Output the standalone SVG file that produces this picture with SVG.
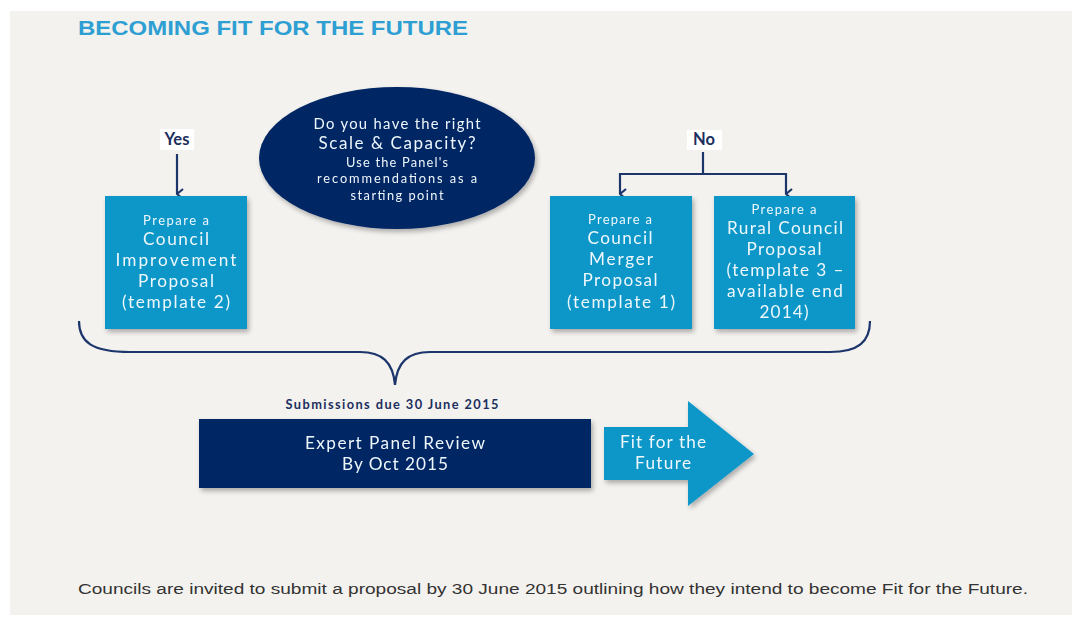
<svg xmlns="http://www.w3.org/2000/svg" width="1072" height="617" viewBox="0 0 1072 617">
  <style>
    .bx { fill: #0b97c9; }
    .navy { fill: #002664; }
    .t { font-family: Lato, "Open Sans", "Liberation Sans", sans-serif; fill: #eef7fb; text-anchor: middle; }
    .sm { font-size: 13px; }
    .md { font-size: 17.2px; }
    .el1 { font-size: 14.8px; }
    .el2 { font-size: 17px; }
    .el3 { font-size: 12.8px; }
    .lbl { font-family: Lato, "Open Sans", "Liberation Sans", sans-serif; font-weight: bold; font-size: 16.5px; fill: #1c2f5e; text-anchor: middle; }
    .conn { fill: none; stroke: #1c356b; stroke-width: 2.2; }
  </style>
  <defs>
    <marker id="chev" viewBox="0 0 12 10" refX="6" refY="9" markerWidth="12" markerHeight="10" markerUnits="userSpaceOnUse" orient="auto-start-reverse">
      <polyline points="1,3 6,9 11,3" fill="none" stroke="#1c356b" stroke-width="2.2"/>
    </marker>
    <filter id="sh" x="-10%" y="-10%" width="125%" height="130%">
      <feGaussianBlur in="SourceAlpha" stdDeviation="2.5"/>
      <feOffset dx="2" dy="3" result="b"/>
      <feComponentTransfer><feFuncA type="linear" slope="0.3"/></feComponentTransfer>
      <feMerge><feMergeNode/><feMergeNode in="SourceGraphic"/></feMerge>
    </filter>
  </defs>

  <!-- page background -->
  <rect x="0" y="0" width="1072" height="617" fill="#ffffff"/>
  <rect x="10" y="11" width="1062" height="604" fill="#f3f2ef"/>

  <text x="78" y="35" font-family="Liberation Sans, Arial, sans-serif" font-weight="bold" font-size="21" fill="#2e9fd2" textLength="390" lengthAdjust="spacingAndGlyphs">BECOMING FIT FOR THE FUTURE</text>

  <!-- connectors -->
  <g id="connectors">
    <line class="conn" x1="177" y1="154" x2="177" y2="194" marker-end="url(#chev)"/>
    <polyline class="conn" points="703,152 703,174"/>
    <polyline class="conn" points="620,194 620,174 786,174 786,194" marker-start="url(#chev)" marker-end="url(#chev)"/>
    <path class="conn" d="M79,321 C79,342 92,352 130,352 L360,352 C382,352 393,362 395,385 C397,362 408,352 430,352 L830,352 C858,352 870,342 870,321"/>
  </g>

  <g id="question" filter="url(#sh)">
    <ellipse class="navy" cx="397" cy="158" rx="138" ry="71"/>
    <text class="t el1" x="397" y="129" textLength="167" lengthAdjust="spacing">Do you have the right</text>
    <text class="t el2" x="397" y="149" textLength="157" lengthAdjust="spacing">Scale &amp; Capacity?</text>
    <text class="t el3" x="397" y="167" textLength="102" lengthAdjust="spacing">Use the Panel's</text>
    <text class="t el3" x="397" y="183" textLength="160" lengthAdjust="spacing">recommendations as a</text>
    <text class="t el3" x="397" y="200" textLength="93" lengthAdjust="spacing">starting point</text>
  </g>

  <g id="yes">
    <rect x="160" y="129" width="34" height="21" fill="#ffffff"/>
    <text class="lbl" x="177" y="145">Yes</text>
  </g>

  <g id="no">
    <rect x="687" y="130" width="35" height="20" fill="#ffffff"/>
    <text class="lbl" x="704" y="145">No</text>
  </g>

  <g id="improvement" filter="url(#sh)">
    <rect class="bx" x="105" y="196" width="142" height="133"/>
    <text class="t sm" x="176" y="225" textLength="66" lengthAdjust="spacing">Prepare a</text>
    <text class="t md" x="176" y="245" textLength="66" lengthAdjust="spacing">Council</text>
    <text class="t md" x="176" y="266" textLength="121" lengthAdjust="spacing">Improvement</text>
    <text class="t md" x="176" y="287" textLength="76" lengthAdjust="spacing">Proposal</text>
    <text class="t md" x="176" y="308" textLength="108" lengthAdjust="spacing">(template 2)</text>
  </g>

  <g id="merger" filter="url(#sh)">
    <rect class="bx" x="550" y="196" width="142" height="133"/>
    <text class="t sm" x="620" y="224" textLength="64" lengthAdjust="spacing">Prepare a</text>
    <text class="t md" x="620" y="244" textLength="65" lengthAdjust="spacing">Council</text>
    <text class="t md" x="621" y="265" textLength="64" lengthAdjust="spacing">Merger</text>
    <text class="t md" x="620" y="286" textLength="75" lengthAdjust="spacing">Proposal</text>
    <text class="t md" x="621" y="308" textLength="108" lengthAdjust="spacing">(template 1)</text>
  </g>

  <g id="rural" filter="url(#sh)">
    <rect class="bx" x="714" y="196" width="141" height="133"/>
    <text class="t sm" x="784" y="214" textLength="65" lengthAdjust="spacing">Prepare a</text>
    <text class="t md" x="785" y="234" textLength="116" lengthAdjust="spacing">Rural Council</text>
    <text class="t md" x="784" y="255" textLength="75" lengthAdjust="spacing">Proposal</text>
    <text class="t md" x="785" y="276" textLength="117" lengthAdjust="spacing">(template 3 –</text>
    <text class="t md" x="785" y="297" textLength="116" lengthAdjust="spacing">available end</text>
    <text class="t md" x="784" y="318" textLength="49" lengthAdjust="spacing">2014)</text>
  </g>

  <g id="submissions">
    <text x="392" y="409" font-family="Lato, Open Sans, Liberation Sans, sans-serif" font-weight="bold" font-size="12.8" fill="#1c2f5e" text-anchor="middle" textLength="213" lengthAdjust="spacing">Submissions due 30 June 2015</text>
  </g>

  <g id="review" filter="url(#sh)">
    <rect class="navy" x="199" y="419" width="392" height="69"/>
    <text class="t md" x="395" y="449" textLength="180" lengthAdjust="spacing">Expert Panel Review</text>
    <text class="t md" x="395" y="470" textLength="106" lengthAdjust="spacing">By Oct 2015</text>
  </g>

  <g id="fit" filter="url(#sh)">
    <polygon class="bx" points="604,427 688,427 688,401 754,454 688,506 688,480 604,480"/>
    <text class="t md" x="663" y="448" textLength="86" lengthAdjust="spacing">Fit for the</text>
    <text class="t md" x="663" y="469" textLength="56" lengthAdjust="spacing">Future</text>
  </g>

  <text x="78" y="594" font-family="Liberation Sans, Arial, sans-serif" font-size="15.5" fill="#333333" textLength="950" lengthAdjust="spacingAndGlyphs">Councils are invited to submit a proposal by 30 June 2015 outlining how they intend to become Fit for the Future.</text>
</svg>
